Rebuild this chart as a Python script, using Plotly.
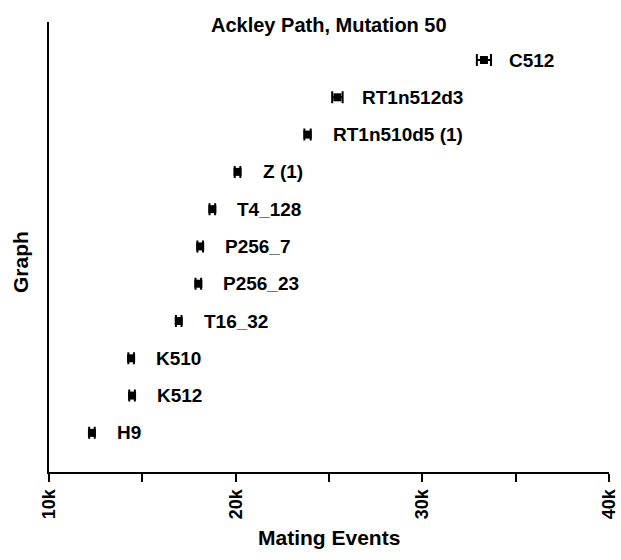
import plotly.graph_objects as go

graphs = ["H9", "K512", "K510", "T16_32", "P256_23", "P256_7", "T4_128",
          "Z (1)", "RT1n510d5 (1)", "RT1n512d3", "C512"]
means = [12300, 14450, 14400, 16950, 18000, 18100, 18750, 20100, 23850, 25450, 33300]
errors = [150, 150, 150, 150, 150, 150, 150, 150, 170, 280, 380]
xtick_vals = [10000, 20000, 30000, 40000]
xtick_text = ["10k", "20k", "30k", "40k"]

ypos = list(range(len(graphs)))
FONT = "Liberation Sans, Arial, sans-serif"

PLOT_TOP, PLOT_BOTTOM, PLOT_LEFT, PLOT_RIGHT = 22, 472, 49, 609
PH = PLOT_BOTTOM - PLOT_TOP
PW = PLOT_RIGHT - PLOT_LEFT

fig = go.Figure()
fig.add_trace(go.Scatter(
    x=means, y=ypos, mode="markers",
    marker=dict(symbol="square", size=8, color="black"),
    error_x=dict(type="data", array=errors, color="black", thickness=2, width=6, visible=True),
    showlegend=False, hoverinfo="skip",
))

annotations = []
for g, m, y in zip(graphs, means, ypos):
    annotations.append(dict(x=m, y=y, xref="x", yref="y", text=f"<b>{g}</b>",
                            showarrow=False, xanchor="left", yanchor="middle",
                            xshift=23, font=dict(family=FONT, size=19, color="black")))
annotations.append(dict(x=0.5, y=(PLOT_BOTTOM - 25) / PH, xref="paper", yref="paper",
                        text="<b>Ackley Path, Mutation 50</b>", showarrow=False,
                        xanchor="center", yanchor="middle",
                        font=dict(family=FONT, size=20, color="black")))
annotations.append(dict(x=(20 - PLOT_LEFT) / PW, y=(PLOT_BOTTOM - 262) / PH, xref="paper", yref="paper",
                        text="<b>Graph</b>", showarrow=False, textangle=-90,
                        xanchor="center", yanchor="middle",
                        font=dict(family=FONT, size=21, color="black")))
annotations.append(dict(x=0.5, y=(PLOT_BOTTOM - 537) / PH, xref="paper", yref="paper",
                        text="<b>Mating Events</b>", showarrow=False,
                        xanchor="center", yanchor="middle",
                        font=dict(family=FONT, size=21, color="black")))

fig.update_layout(
    width=621, height=560,
    margin=dict(l=PLOT_LEFT, r=621 - PLOT_RIGHT, t=PLOT_TOP, b=560 - PLOT_BOTTOM),
    paper_bgcolor="white", plot_bgcolor="white",
    annotations=annotations,
    xaxis=dict(range=[10000, 40000], tickvals=xtick_vals, ticktext=[f"<b>{t}</b>" for t in xtick_text],
               tickangle=-90, ticks="outside", ticklen=8, tickwidth=2, tickcolor="black",
               showline=True, linewidth=2, linecolor="black", showgrid=False, zeroline=False,
               automargin=False,
               minor=dict(tickvals=[15000, 25000, 35000], ticks="outside", ticklen=8,
                          tickwidth=2, tickcolor="black", showgrid=False),
               tickfont=dict(family=FONT, size=18, color="black")),
    yaxis=dict(range=[-1.05, 11.02], showticklabels=False, ticks="",
               showline=True, linewidth=2, linecolor="black", showgrid=False, zeroline=False,
               automargin=False),
)

fig.write_html("out.html")
